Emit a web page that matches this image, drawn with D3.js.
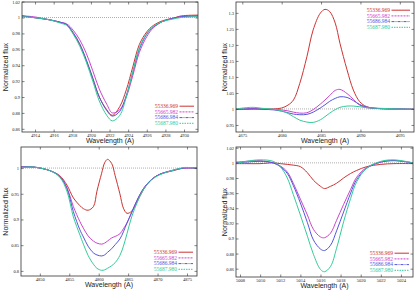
<!DOCTYPE html>
<html>
<head>
<meta charset="utf-8">
<script src="https://cdn.jsdelivr.net/npm/d3@7"></script>
<style>
  body { margin: 0; background: #fff; }
  svg { display: block; }
</style>
</head>
<body>
<svg id="chart"></svg>
<script>
const chartSize = {width: 415, height: 290};

const epochs = ["55336.969", "55665.982", "55686.984", "55687.980"];
const colors = ["#cc3333", "#cc44cc", "#5555dd", "#33cc99"];
const dashes = [null, "2,1", "3,1,1,1", "1.5,1"];

// He I 4922
const wave4922 = [4912.6, 4913.8, 4915.6, 4916.7, 4917.4, 4918.1, 4918.8, 4919.5, 4920.2, 4920.9, 4921.7,
  4922.3, 4923.1, 4923.8, 4924.5, 4925.2, 4926.0, 4926.7, 4927.7, 4928.8, 4929.7, 4931.5];
const flux4922 = [
  [1.002, 1.000, 0.997, 0.994, 0.991, 0.980, 0.966, 0.946, 0.923, 0.900, 0.884, 0.877, 0.888, 0.909, 0.938, 0.966, 0.982, 0.990, 0.996, 0.999, 1.002, 1.003],
  [1.002, 1.001, 0.997, 0.994, 0.992, 0.984, 0.972, 0.955, 0.933, 0.910, 0.891, 0.880, 0.884, 0.900, 0.927, 0.956, 0.976, 0.987, 0.995, 0.999, 1.001, 1.002],
  [1.002, 1.000, 0.997, 0.994, 0.991, 0.981, 0.967, 0.947, 0.924, 0.900, 0.883, 0.876, 0.882, 0.902, 0.931, 0.960, 0.979, 0.988, 0.995, 0.999, 1.001, 1.002],
  [1.001, 1.000, 0.997, 0.993, 0.990, 0.979, 0.964, 0.944, 0.920, 0.895, 0.877, 0.870, 0.877, 0.900, 0.932, 0.962, 0.980, 0.989, 0.995, 0.998, 1.000, 1.001]
];

// He II 4686
const wave4686 = [4674.2, 4675.5, 4676.5, 4677.5, 4679.0, 4680.0, 4680.8, 4681.5, 4682.3, 4683.2, 4684.0, 4684.9,
  4685.5, 4686.1, 4686.8, 4687.4, 4688.3, 4689.1, 4689.9, 4690.8, 4692.5, 4694.6, 4696.8];
const flux4686 = [
  [0.999, 0.999, 1.000, 1.000, 1.000, 1.003, 1.012, 1.028, 1.080, 1.163, 1.247, 1.299, 1.311, 1.304, 1.268, 1.205, 1.122, 1.059, 1.023, 1.007, 1.001, 1.000, 0.999],
  [0.999, 1.000, 1.001, 1.000, 0.999, 0.997, 0.994, 0.990, 0.987, 0.988, 0.998, 1.015, 1.028, 1.042, 1.058, 1.061, 1.048, 1.030, 1.012, 1.004, 1.001, 1.000, 0.999],
  [0.999, 1.000, 1.000, 0.999, 0.997, 0.993, 0.988, 0.984, 0.982, 0.983, 0.990, 1.003, 1.013, 1.024, 1.033, 1.038, 1.036, 1.026, 1.014, 1.006, 1.001, 1.000, 0.999],
  [1.000, 1.004, 1.005, 1.002, 0.999, 0.994, 0.986, 0.976, 0.965, 0.959, 0.958, 0.966, 0.976, 0.987, 0.998, 1.005, 1.009, 1.009, 1.007, 1.004, 1.002, 1.000, 0.999]
];

// H beta
const wave4861 = [4846.8, 4848.9, 4851.7, 4853.4, 4854.6, 4855.7, 4856.8, 4857.4, 4858.2, 4859.1, 4859.7, 4860.5, 4861.0, 4861.5,
  4862.2, 4862.8, 4863.6, 4864.2, 4864.8, 4865.6, 4866.5, 4867.6, 4869.0, 4870.4, 4872.7, 4874.4, 4876.7];
const flux4861 = [
  [1.002, 1.002, 0.995, 0.985, 0.967, 0.942, 0.927, 0.921, 0.918, 0.925, 0.955, 0.990, 1.010, 1.017, 1.009, 0.985, 0.950, 0.922, 0.912, 0.916, 0.934, 0.958, 0.978, 0.988, 0.995, 1.000, 1.000],
  [1.002, 1.002, 0.995, 0.984, 0.962, 0.925, 0.896, 0.883, 0.868, 0.858, 0.854, 0.852, 0.854, 0.858, 0.864, 0.867, 0.872, 0.882, 0.893, 0.913, 0.937, 0.960, 0.978, 0.988, 0.996, 1.000, 1.000],
  [1.002, 1.002, 0.995, 0.983, 0.960, 0.915, 0.880, 0.866, 0.848, 0.835, 0.831, 0.829, 0.831, 0.836, 0.843, 0.851, 0.862, 0.876, 0.893, 0.914, 0.937, 0.960, 0.978, 0.988, 0.996, 1.000, 1.000],
  [1.001, 1.002, 0.995, 0.982, 0.955, 0.905, 0.870, 0.852, 0.830, 0.813, 0.805, 0.801, 0.802, 0.805, 0.810, 0.816, 0.830, 0.848, 0.872, 0.905, 0.932, 0.958, 0.977, 0.987, 0.996, 1.001, 1.000]
];

// He I 5016
const wave5016 = [5007.6, 5008.6, 5010.0, 5011.3, 5012.0, 5012.7, 5013.3, 5014.0, 5014.7, 5015.3, 5016.0,
  5016.4, 5017.0, 5017.6, 5018.3, 5019.0, 5019.6, 5020.6, 5022.0, 5023.3, 5025.2];
const flux5016 = [
  [0.999, 0.999, 0.999, 1.000, 0.999, 0.998, 0.997, 0.995, 0.987, 0.977, 0.969, 0.966, 0.969, 0.973, 0.980, 0.986, 0.990, 0.995, 0.998, 0.999, 0.999],
  [1.001, 1.002, 1.003, 1.000, 0.996, 0.988, 0.973, 0.952, 0.931, 0.912, 0.902, 0.901, 0.907, 0.924, 0.945, 0.965, 0.981, 0.994, 1.001, 1.003, 1.000],
  [1.000, 1.001, 1.002, 1.000, 0.995, 0.986, 0.970, 0.947, 0.921, 0.898, 0.886, 0.884, 0.891, 0.910, 0.935, 0.960, 0.978, 0.993, 1.001, 1.003, 1.000],
  [0.999, 1.002, 1.004, 1.002, 0.995, 0.980, 0.958, 0.931, 0.903, 0.879, 0.859, 0.856, 0.863, 0.887, 0.922, 0.953, 0.975, 0.993, 1.002, 1.004, 1.000]
];

const xTicks4922 = [4914, 4916, 4918, 4920, 4922, 4924, 4926, 4928, 4930];
const yTicks4922 = [0.86, 0.88, 0.9, 0.92, 0.94, 0.96, 0.98, 1, 1.02];
const xTicks4686 = [4675, 4680, 4685, 4690, 4695];
const yTicks4686 = [0.95, 1, 1.05, 1.1, 1.15, 1.2, 1.25, 1.3];
const xTicks4861 = [4850, 4855, 4860, 4865, 4870, 4875];
const yTicks4861 = [0.8, 0.85, 0.9, 0.95, 1];
const xTicks5016 = [5008, 5010, 5012, 5014, 5016, 5018, 5020, 5022, 5024];
const yTicks5016 = [0.86, 0.88, 0.9, 0.92, 0.94, 0.96, 0.98, 1, 1.02];

const panels = [
  {wave: wave4922, flux: flux4922, xDomain: [4912.6, 4931.5], yDomain: [0.856, 1.0195],
   xTicks: xTicks4922, yTicks: yTicks4922,
   box: {left: 22, right: 198, top: 2, bottom: 132}, legendY: 108, legendRight: 20, titleX: 7.5},
  {wave: wave4686, flux: flux4686, xDomain: [4674.2, 4696.8], yDomain: [0.928, 1.334],
   xTicks: xTicks4686, yTicks: yTicks4686,
   box: {left: 236, right: 414, top: 2, bottom: 132}, legendY: 12, legendRight: 24, titleX: 226.5},
  {wave: wave4861, flux: flux4861, xDomain: [4846.8, 4876.7], yDomain: [0.79, 1.041],
   xTicks: xTicks4861, yTicks: yTicks4861,
   box: {left: 21, right: 197, top: 147, bottom: 276}, legendY: 254, legendRight: 20, titleX: 7.5},
  {wave: wave5016, flux: flux5016, xDomain: [5007.6, 5025.2], yDomain: [0.849, 1.021],
   xTicks: xTicks5016, yTicks: yTicks5016,
   box: {left: 236, right: 413, top: 147, bottom: 277}, legendY: 255, legendRight: 20, titleX: 226.5}
];

const fmt = d => String(+d.toFixed(3));

const svg = d3.select("#chart")
  .attr("width", chartSize.width)
  .attr("height", chartSize.height);

const drawPanel = (p, idx) => {
  const b = p.box;
  const w = b.right - b.left, h = b.bottom - b.top;

  const x = d3.scaleLinear().domain(p.xDomain).range([b.left, b.right]);
  const y = d3.scaleLinear().domain(p.yDomain).range([b.bottom, b.top]);

  svg.append("clipPath")
    .attr("id", `clip${idx}`)
    .append("rect")
    .attr("x", b.left).attr("y", b.top)
    .attr("width", w).attr("height", h);

  // dotted continuum level
  svg.append("line")
    .attr("x1", b.left).attr("x2", b.right)
    .attr("y1", y(1)).attr("y2", y(1))
    .attr("stroke", "#9a9a9a")
    .attr("stroke-width", 0.8)
    .attr("stroke-dasharray", "1,1");

  const line = d3.line()
    .x((d, i) => x(p.wave[i]))
    .y(d => y(d))
    .curve(d3.curveCatmullRom.alpha(0.5));

  // plotted profiles look solid at this size, only the key samples show the dash
  const curves = svg.append("g").attr("clip-path", `url(#clip${idx})`);
  p.flux.forEach((series, s) => {
    curves.append("path")
      .datum(series)
      .attr("d", line)
      .attr("fill", "none")
      .attr("stroke", colors[s])
      .attr("stroke-width", 1);
  });

  const styleAxis = g => {
    g.select(".domain").remove();
    g.selectAll(".tick line").attr("stroke", "#333").attr("stroke-width", 0.6);
    g.selectAll("text")
      .attr("font-family", "'Liberation Serif', serif")
      .attr("font-size", 4.5)
      .attr("fill", "#222");
  };

  svg.append("g")
    .attr("transform", `translate(0,${b.bottom})`)
    .call(d3.axisBottom(x).tickValues(p.xTicks).tickFormat(fmt).tickSizeInner(-2.5).tickSizeOuter(0).tickPadding(1.8))
    .call(styleAxis);
  svg.append("g")
    .attr("transform", `translate(0,${b.top})`)
    .call(d3.axisTop(x).tickValues(p.xTicks).tickFormat("").tickSizeInner(-2.5).tickSizeOuter(0))
    .call(styleAxis);
  svg.append("g")
    .attr("transform", `translate(${b.left},0)`)
    .call(d3.axisLeft(y).tickValues(p.yTicks).tickFormat(fmt).tickSizeInner(-2.5).tickSizeOuter(0).tickPadding(2))
    .call(styleAxis);
  svg.append("g")
    .attr("transform", `translate(${b.right},0)`)
    .call(d3.axisRight(y).tickValues(p.yTicks).tickFormat("").tickSizeInner(-2.5).tickSizeOuter(0))
    .call(styleAxis);

  svg.append("rect")
    .attr("x", b.left).attr("y", b.top)
    .attr("width", w).attr("height", h)
    .attr("fill", "none")
    .attr("stroke", "#333")
    .attr("stroke-width", 0.8);

  svg.append("text")
    .attr("x", (b.left + b.right) / 2)
    .attr("y", b.bottom + 10.5)
    .attr("text-anchor", "middle")
    .attr("font-family", "'Liberation Sans', sans-serif")
    .attr("font-size", 7)
    .attr("fill", "#222")
    .text("Wavelength (A)");

  svg.append("text")
    .attr("transform", `translate(${p.titleX},${(b.top + b.bottom) / 2}) rotate(-90)`)
    .attr("text-anchor", "middle")
    .attr("font-family", "'Liberation Sans', sans-serif")
    .attr("font-size", 7)
    .attr("fill", "#222")
    .text("Normalized flux");

  const legend = svg.append("g");
  epochs.forEach((label, s) => {
    const ly = p.legendY + s * 5.7;
    legend.append("text")
      .attr("x", b.right - p.legendRight)
      .attr("y", ly)
      .attr("text-anchor", "end")
      .attr("font-family", "'Liberation Serif', serif")
      .attr("font-size", 5.5)
      .attr("fill", colors[s])
      .text(label);
    legend.append("line")
      .attr("x1", b.right - p.legendRight + 1.5)
      .attr("x2", b.right - 4)
      .attr("y1", ly - 1.8).attr("y2", ly - 1.8)
      .attr("stroke", colors[s])
      .attr("stroke-width", 1)
      .attr("stroke-dasharray", dashes[s]);
  });
};

panels.forEach(drawPanel);
</script>
</body>
</html>
